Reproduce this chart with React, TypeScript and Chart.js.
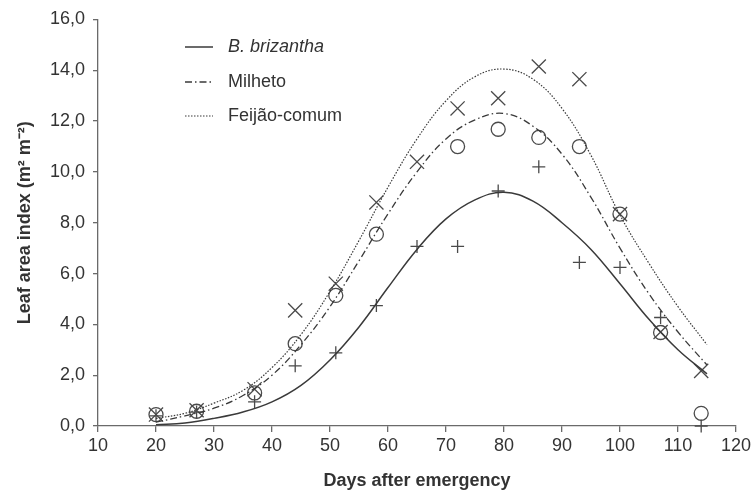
import React, { useEffect, useRef } from "react";
import { Chart, registerables } from "chart.js";

Chart.register(...registerables);

// Observed sampling days
const days = [20, 27, 37, 44, 51, 58, 65, 72, 79, 86, 93, 100, 107, 114];
// Observed leaf area index
const brizanthaObs = [0.4, 0.55, 0.95, 2.37, 2.88, 4.74, 7.07, 7.07, 9.25, 10.2, 6.44, 6.24, 4.27, 0.0];
const milhetoObs = [0.45, 0.58, 1.3, 3.24, 5.14, 7.55, null, 11.0, 11.68, 11.36, 11.0, 8.34, 3.68, 0.5];
const feijaoObs = [0.45, 0.62, 1.45, 4.55, 5.6, 8.8, 10.4, 12.5, 12.9, 14.15, 13.65, 8.34, 3.7, 2.17];

// Fitted curves
const curveDays = [20, 25, 30, 35, 40, 45, 50, 55, 60, 65, 70, 75, 80, 85, 90, 95, 100, 105, 110, 115];
const brizanthaFit = [0.05, 0.12, 0.3, 0.55, 0.95, 1.6, 2.6, 3.9, 5.45, 6.95, 8.15, 8.9, 9.2, 8.85, 8.0, 6.95, 5.6, 4.2, 3.0, 2.05];
const milhetoFit = [0.15, 0.4, 0.7, 1.2, 2.0, 3.2, 4.7, 6.5, 8.35, 10.0, 11.3, 12.05, 12.3, 11.8, 10.7, 9.0, 7.0, 5.2, 3.7, 2.4];
const feijaoFit = [0.3, 0.5, 0.9, 1.4, 2.3, 3.6, 5.3, 7.3, 9.4, 11.3, 12.8, 13.75, 14.05, 13.65, 12.5, 10.65, 8.3, 6.4, 4.7, 3.2];

const seriesNames = ["B. brizantha", "Milheto", "Feijão-comum"];
const xTicks = [10, 20, 30, 40, 50, 60, 70, 80, 90, 100, 110, 120];
const yTicks = [0, 2, 4, 6, 8, 10, 12, 14, 16];

const FONT = "'Liberation Sans', Arial, sans-serif";
const LINE = "#3a3a3a";
const MARK = "#4a4a4a";
const AXIS = "#6a6a6a";
const TEXT = "#333333";

const pts = (xs: number[], ys: (number | null)[]) =>
  xs.map((x, i) => ({ x, y: ys[i] })).filter((p) => p.y !== null);

const legendPlugin = {
  id: "customLegend",
  afterDraw(chart: any) {
    const ctx = chart.ctx;
    const rows = [47, 82, 116];
    ctx.save();
    for (let i = 0; i < 3; i++) {
      const ds = chart.data.datasets[i];
      const y = rows[i];
      ctx.beginPath();
      ctx.strokeStyle = ds.borderColor;
      ctx.lineWidth = ds.borderWidth;
      ctx.setLineDash(ds.borderDash || []);
      ctx.moveTo(185, y);
      ctx.lineTo(213, y);
      ctx.stroke();
      ctx.setLineDash([]);
      ctx.fillStyle = TEXT;
      ctx.font = (i === 0 ? "italic " : "") + "18px " + FONT;
      ctx.textBaseline = "middle";
      ctx.textAlign = "left";
      ctx.fillText(seriesNames[i], 228, y);
    }
    ctx.restore();
  },
};

export default function App() {
  const ref = useRef<HTMLCanvasElement | null>(null);
  useEffect(() => {
    if (!ref.current) return;
    const fitStyle = { pointRadius: 0, tension: 0.4, fill: false, clip: false, borderColor: LINE };
    const obsStyle = { showLine: false, borderColor: MARK, borderWidth: 1.3, backgroundColor: "transparent", clip: false };
    const chart = new Chart(ref.current, {
      type: "line",
      data: {
        datasets: [
          { label: seriesNames[0], data: pts(curveDays, brizanthaFit), ...fitStyle, borderWidth: 1.5 },
          { label: seriesNames[1], data: pts(curveDays, milhetoFit), ...fitStyle, borderWidth: 1.3, borderDash: [7, 3, 1.5, 3] },
          { label: seriesNames[2], data: pts(curveDays, feijaoFit), ...fitStyle, borderWidth: 1.2, borderDash: [1.5, 1.5] },
          { label: seriesNames[0] + " obs", data: pts(days, brizanthaObs), ...obsStyle, pointStyle: "cross", pointRadius: 6.5 },
          { label: seriesNames[1] + " obs", data: pts(days, milhetoObs), ...obsStyle, pointStyle: "circle", pointRadius: 7 },
          { label: seriesNames[2] + " obs", data: pts(days, feijaoObs), ...obsStyle, pointStyle: "crossRot", pointRadius: 10 },
        ],
      },
      options: {
        animation: false,
        responsive: false,
        events: [],
        layout: { padding: { top: 19.5, right: 16, left: 0, bottom: 0 } },
        plugins: { legend: { display: false }, tooltip: { enabled: false } },
        scales: {
          x: {
            type: "linear",
            min: 10,
            max: 120,
            afterBuildTicks: (s: any) => {
              s.ticks = xTicks.map((v) => ({ value: v }));
            },
            afterFit: (s: any) => {
              s.height = 66;
            },
            ticks: {
              color: TEXT,
              font: { family: FONT, size: 18 },
              padding: 3,
              maxRotation: 0,
              autoSkip: false,
            },
            grid: { display: true, drawOnChartArea: false, drawTicks: true, tickLength: 6, color: AXIS, lineWidth: 1.3 },
            border: { display: true, color: AXIS, width: 1.3 },
            title: {
              display: true,
              text: "Days after emergency",
              color: TEXT,
              font: { family: FONT, size: 18, weight: "bold" },
              padding: { top: 0, bottom: 0 },
            },
          },
          y: {
            type: "linear",
            min: 0,
            max: 16,
            afterBuildTicks: (s: any) => {
              s.ticks = yTicks.map((v) => ({ value: v }));
            },
            afterFit: (s: any) => {
              s.width = 98;
            },
            ticks: {
              color: TEXT,
              font: { family: FONT, size: 18 },
              padding: 8,
              callback: (v: any) => Number(v).toFixed(1).replace(".", ","),
            },
            grid: { display: true, drawOnChartArea: false, drawTicks: true, tickLength: 5, color: AXIS, lineWidth: 1.3 },
            border: { display: true, color: AXIS, width: 1.3 },
            title: {
              display: true,
              text: "Leaf area index (m² m⁻²)",
              color: TEXT,
              font: { family: FONT, size: 18, weight: "bold" },
              padding: { top: 14, bottom: 0 },
            },
          },
        },
      },
      plugins: [legendPlugin],
    } as any);
    return () => chart.destroy();
  }, []);
  return (
    <div style={{ position: "absolute", left: 0, top: 0, width: 754, height: 492, background: "#fff" }}>
      <canvas ref={ref} width={754} height={492} style={{ width: 754, height: 492 }} />
    </div>
  );
}
